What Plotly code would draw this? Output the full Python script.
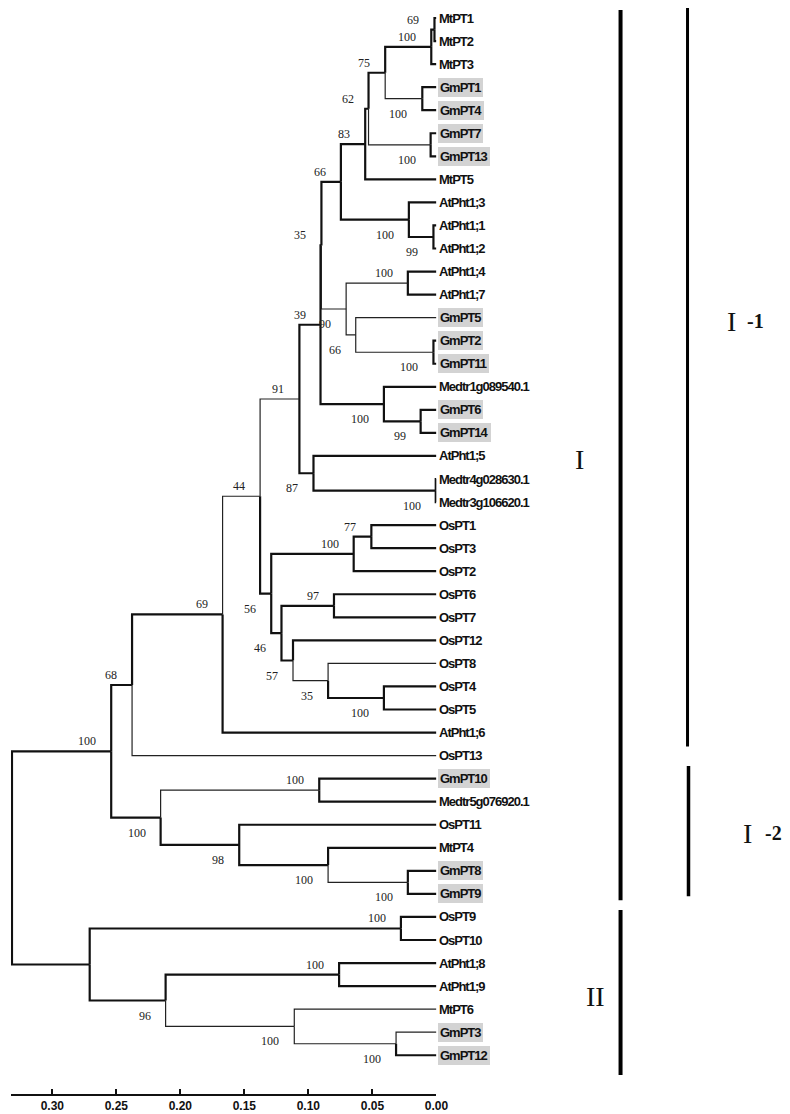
import plotly.graph_objects as go

# ---------------- data ----------------
leaves = ["MtPT1", "MtPT2", "MtPT3", "GmPT1", "GmPT4", "GmPT7", "GmPT13", "MtPT5",
          "AtPht1;3", "AtPht1;1", "AtPht1;2", "AtPht1;4", "AtPht1;7", "GmPT5", "GmPT2", "GmPT11",
          "Medtr1g089540.1", "GmPT6", "GmPT14", "AtPht1;5", "Medtr4g028630.1", "Medtr3g106620.1",
          "OsPT1", "OsPT3", "OsPT2", "OsPT6", "OsPT7", "OsPT12", "OsPT8", "OsPT4", "OsPT5",
          "AtPht1;6", "OsPT13", "GmPT10", "Medtr5g076920.1", "OsPT11", "MtPT4", "GmPT8", "GmPT9",
          "OsPT9", "OsPT10", "AtPht1;8", "AtPht1;9", "MtPT6", "GmPT3", "GmPT12"]

# internal nodes (post-order): name, children, node height (distance), bootstrap
node_names = ["Mt12", "Mt123", "Gm14", "A", "Gm713", "B", "C", "At12", "At3", "D",
              "At47", "Gm211", "Gm5", "F", "E", "Gm614", "Med1", "N39", "Med43", "N87",
              "N91", "Os13", "Os132", "Os67", "Os45", "Os845", "N57", "N46", "N56", "N44",
              "N69", "N68", "Gm10", "Gm89", "Mt4", "N98", "I2", "I",
              "Os910", "At89", "Gm312", "Mt6", "N96", "II", "root"]
node_children = [("MtPT1", "MtPT2"), ("Mt12", "MtPT3"), ("GmPT1", "GmPT4"), ("Mt123", "Gm14"),
                 ("GmPT7", "GmPT13"), ("A", "Gm713"), ("B", "MtPT5"), ("AtPht1;1", "AtPht1;2"),
                 ("AtPht1;3", "At12"), ("C", "At3"), ("AtPht1;4", "AtPht1;7"), ("GmPT2", "GmPT11"),
                 ("GmPT5", "Gm211"), ("At47", "Gm5"), ("D", "F"), ("GmPT6", "GmPT14"),
                 ("Medtr1g089540.1", "Gm614"), ("E", "Med1"), ("Medtr4g028630.1", "Medtr3g106620.1"),
                 ("AtPht1;5", "Med43"), ("N39", "N87"), ("OsPT1", "OsPT3"), ("Os13", "OsPT2"),
                 ("OsPT6", "OsPT7"), ("OsPT4", "OsPT5"), ("OsPT8", "Os45"), ("OsPT12", "Os845"),
                 ("Os67", "N57"), ("Os132", "N46"), ("N91", "N56"), ("N44", "AtPht1;6"),
                 ("N69", "OsPT13"), ("GmPT10", "Medtr5g076920.1"), ("GmPT8", "GmPT9"),
                 ("MtPT4", "Gm89"), ("OsPT11", "Mt4"), ("Gm10", "N98"), ("N68", "I2"),
                 ("OsPT9", "OsPT10"), ("AtPht1;8", "AtPht1;9"), ("GmPT3", "GmPT12"),
                 ("MtPT6", "Gm312"), ("At89", "Mt6"), ("Os910", "N96"), ("I", "II")]
node_heights = [0.0015, 0.004, 0.011, 0.040, 0.0045, 0.053, 0.0556, 0.0023, 0.0215, 0.0746,
                0.0223, 0.0023, 0.063, 0.0705, 0.0898, 0.0123, 0.041, 0.0905, 0.0005, 0.096,
                0.107, 0.0508, 0.0646, 0.080, 0.041, 0.0846, 0.112, 0.121, 0.129, 0.1377,
                0.167, 0.2377, 0.0915, 0.0223, 0.0846, 0.154, 0.2154, 0.254,
                0.0277, 0.076, 0.0315, 0.111, 0.2115, 0.2708, 0.3315]
node_support = [69, 100, 100, 75, 100, 62, 83, 99, 100, 66,
                100, 100, 66, 90, 35, 99, 100, 39, 100, 87,
                91, 77, 100, 97, 100, 35, 57, 46, 56, 44,
                69, 68, 100, 100, 100, 98, 100, 100,
                100, 100, 100, 100, 96, None, None]
support_side = ["a", "a", "b", "a", "b", "a", "a", "b", "b", "a",
                "a", "b", "b", "b", "a", "b", "b", "a", "b", "b",
                "a", "a", "a", "a", "b", "b", "b", "b", "b", "a",
                "a", "a", "a", "b", "b", "b", "b", "a",
                "a", "a", "b", "b", "b", "a", "a"]

# groups: label, first leaf, last leaf
group_names = ["I", "I-1", "I-2", "II"]
group_first = ["MtPT1", "MtPT1", "GmPT10", "OsPT9"]
group_last = ["GmPT9", "AtPht1;6", "GmPT9", "GmPT12"]

axis_ticks = [0.00, 0.05, 0.10, 0.15, 0.20, 0.25, 0.30]
axis_ticktext = ["0.00", "0.05", "0.10", "0.15", "0.20", "0.25", "0.30"]

# ---------------- layout of tree ----------------
pos_x = {}
pos_y = {}
for i, name in enumerate(leaves):
    pos_x[name] = 0.0
    pos_y[name] = float(i)
for name, ch, h in zip(node_names, node_children, node_heights):
    pos_x[name] = h
    pos_y[name] = sum(pos_y[c] for c in ch) / len(ch)

thin_edges = {"Gm14", "Gm713", "F", "At47", "Gm5", "GmPT5", "Gm211", "N91", "N44",
              "Os845", "OsPT8", "OsPT13", "Gm10", "Gm89", "Mt6", "MtPT6", "Gm312", "GmPT3"}

thick_x, thick_y, thin_x, thin_y = [], [], [], []
for name, ch in zip(node_names, node_children):
    px, py = pos_x[name], pos_y[name]
    for c in ch:
        xs = [px, px, pos_x[c], None]
        ys = [py, pos_y[c], pos_y[c], None]
        if c in thin_edges:
            thin_x += xs
            thin_y += ys
        else:
            thick_x += xs
            thick_y += ys

fig = go.Figure()
fig.add_trace(go.Scatter(x=thick_x, y=thick_y, mode="lines", xaxis="x", yaxis="y",
                         line=dict(color="#111111", width=2.2), hoverinfo="skip", showlegend=False))
fig.add_trace(go.Scatter(x=thin_x, y=thin_y, mode="lines", xaxis="x", yaxis="y",
                         line=dict(color="#222222", width=1.2), hoverinfo="skip", showlegend=False))

annotations = []
leaf_font = dict(family="Liberation Sans, Arial, sans-serif", size=13, color="#111111")
for i, name in enumerate(leaves):
    hl = name.startswith("GmPT")
    annotations.append(dict(x=0, y=i, xref="x", yref="y",
                            text="<span style='letter-spacing:-1px'><b>%s</b></span>" % name,
                            showarrow=False, xanchor="left", yanchor="middle",
                            xshift=2 if hl else 3, font=leaf_font,
                            bgcolor="#d3d3d3" if hl else None, borderpad=2 if hl else 0,
                            borderwidth=0))

bs_font = dict(family="Liberation Serif, Times New Roman, serif", size=12, color="#222222")
for name, s, side in zip(node_names, node_support, support_side):
    if s is None:
        continue
    annotations.append(dict(x=pos_x[name], y=pos_y[name], xref="x", yref="y", text=str(s),
                            showarrow=False, xanchor="right", yanchor="middle",
                            xshift=-13, yshift=10 if side == "a" else -15, font=bs_font))

# group bars on a second x-axis (layout positions in px-like units)
bar_x = {"I": 622, "I-1": 690, "I-2": 691, "II": 622}
bar_w = {"I": 4, "I-1": 3, "I-2": 3.5, "II": 4}
bar_pad = {"I": (-0.35, 0.27), "I-1": (-0.45, 0.6), "I-2": (-0.55, 0.1), "II": (-0.3, 0.86)}
for g, f, l in zip(group_names, group_first, group_last):
    y0 = leaves.index(f) + bar_pad[g][0]
    y1 = leaves.index(l) + bar_pad[g][1]
    fig.add_trace(go.Scatter(x=[bar_x[g], bar_x[g]], y=[y0, y1], mode="lines", xaxis="x2", yaxis="y",
                             line=dict(color="#000000", width=bar_w[g]), hoverinfo="skip",
                             showlegend=False))

roman_font = dict(family="Liberation Serif, Times New Roman, serif", size=28, color="#111111")
num_font = dict(family="Liberation Serif, Times New Roman, serif", size=20, color="#111111")
# group label: group, x of numeral, numeral, x of suffix, suffix, y (leaf-index units)
label_spec = [("I", 580, "I", None, None, 19.17), ("I-1", 735, "I", 759, "-1", 13.15),
              ("I-2", 751, "I", 777, "-2", 35.36), ("II", 597, "II", None, None, 42.43)]
for g, xr, rtxt, xn, ntxt, yc in label_spec:
    annotations.append(dict(x=xr, y=yc, xref="x2", yref="y", text=rtxt, showarrow=False,
                            xanchor="center", yanchor="middle", font=roman_font))
    if ntxt:
        annotations.append(dict(x=xn, y=yc, xref="x2", yref="y", text="<b>%s</b>" % ntxt,
                                showarrow=False, xanchor="center", yanchor="middle", font=num_font))

W, H = 790, 1114
B = 28
y_top = -0.434
y_bottom = y_top + (H - B) / 23.05
fig.update_layout(
    width=W, height=H,
    margin=dict(l=0, r=0, t=0, b=B),
    paper_bgcolor="white", plot_bgcolor="white",
    showlegend=False,
    annotations=annotations,
    xaxis=dict(domain=[3 / W, 435 / W], range=[0.3323, 0], showgrid=False, zeroline=False,
               showline=True, linecolor="#111111", linewidth=2, ticks="inside", ticklen=5,
               tickwidth=1.5, tickcolor="#111111", tickvals=axis_ticks, ticktext=axis_ticktext,
               tickfont=dict(family="Liberation Sans, Arial, sans-serif", size=12, color="#111111",
                             weight="bold"),
               anchor="y", fixedrange=True),
    xaxis2=dict(domain=[474 / W, 1], range=[474, 790], visible=False, anchor="y", fixedrange=True),
    yaxis=dict(domain=[0, 1], range=[y_bottom, y_top], visible=False, fixedrange=True),
)

fig.write_html("out.html")
